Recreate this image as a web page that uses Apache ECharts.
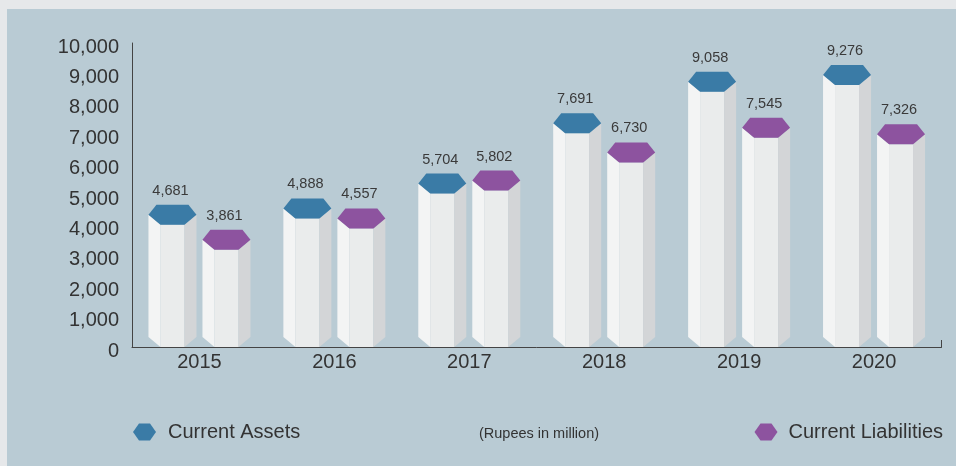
<!DOCTYPE html>
<html>
<head>
<meta charset="utf-8">
<script src="https://cdn.jsdelivr.net/npm/echarts@6/dist/echarts.min.js"></script>
<style>
html,body{margin:0;padding:0;background:#e6e8ea;}
#chart{width:956px;height:466px;}
</style>
</head>
<body>
<div id="chart"></div>
<script>
var years = ['2015', '2016', '2017', '2018', '2019', '2020'];
var currentAssets = [4681, 4888, 5704, 7691, 9058, 9276];
var currentLiabilities = [3861, 4557, 5802, 6730, 7545, 7326];
var yTicks = { min: 0, max: 10000, interval: 1000 };
var unitNote = '(Rupees in million)';

var FONT = '"Liberation Sans", Arial, sans-serif';
var BLUE = '#3a7ba6';
var PURPLE = '#8d539f';

function fmt(v) { return v.toString().replace(/\B(?=(\d{3})+(?!\d))/g, ','); }

function makeRender(offset, topColor) {
  return function (params, api) {
    var idx = api.value(0);
    var p = api.coord([idx, api.value(1)]);
    var base = api.coord([idx, 0]);
    var c = p[0] + offset, y = p[1], y0 = base[1];
    var pw = 24, fw = 12, tw = 16, hh = 20, mh = 10;
    return {
      type: 'group',
      children: [
        { type: 'polygon', shape: { points: [[c - pw, y + mh], [c - fw, y + hh], [c - fw, y0], [c - pw, y0 - mh]] }, style: { fill: '#f3f4f4' } },
        { type: 'polygon', shape: { points: [[c - fw, y + hh], [c + fw, y + hh], [c + fw, y0], [c - fw, y0]] }, style: { fill: '#eaecec' } },
        { type: 'polygon', shape: { points: [[c + fw, y + hh], [c + pw, y + mh], [c + pw, y0 - mh], [c + fw, y0]] }, style: { fill: '#d3d5d7' } },
        { type: 'polygon', shape: { points: [[c - tw, y], [c + tw, y], [c + pw, y + mh], [c + fw, y + hh], [c - fw, y + hh], [c - pw, y + mh]] }, style: { fill: topColor } },
        { type: 'text', x: c - 2, y: y - 14, style: { text: fmt(api.value(1)), fill: '#3a3a3a', font: '14.5px ' + FONT, align: 'center', verticalAlign: 'middle' } }
      ]
    };
  };
}

var HEX_ICON = 'path://M6,0 L17,0 L23,8.5 L17,17 L6,17 L0,8.5 Z';

var chart = echarts.init(document.getElementById('chart'));
chart.setOption({
  backgroundColor: '#e6e8ea',
  animation: false,
  grid: { left: 132, right: 14.5, top: 43, bottom: 119 },
  legend: [
    { data: ['Current Assets'], left: 133, top: 422, padding: 0, itemWidth: 23, itemHeight: 17, icon: HEX_ICON, textStyle: { fontSize: 20, color: '#333', fontFamily: FONT, padding: [0, 0, 0, 7] } },
    { data: ['Current Liabilities'], right: 13, top: 422, padding: 0, itemWidth: 23, itemHeight: 17, icon: HEX_ICON, textStyle: { fontSize: 20, color: '#333', fontFamily: FONT, padding: [0, 0, 0, 6] } }
  ],
  xAxis: {
    type: 'category',
    data: years,
    axisLine: { lineStyle: { color: '#444', width: 1 } },
    axisTick: { show: false },
    axisLabel: { color: '#333', fontSize: 20, fontFamily: FONT, margin: 5 }
  },
  yAxis: {
    type: 'value',
    min: yTicks.min, max: yTicks.max, interval: yTicks.interval,
    axisLine: { show: true, lineStyle: { color: '#444', width: 1 } },
    axisTick: { show: false },
    splitLine: { show: false },
    axisLabel: {
      margin: 13,
      formatter: function (v) { return '{v|' + fmt(v) + '}'; },
      rich: { v: { color: '#333', fontSize: 20, fontFamily: FONT, padding: [8, 0, 0, 0] } }
    }
  },
  series: [
    { name: 'Current Assets', type: 'custom', itemStyle: { color: BLUE }, renderItem: makeRender(-27, BLUE), data: currentAssets.map(function (v, i) { return [i, v]; }) },
    { name: 'Current Liabilities', type: 'custom', itemStyle: { color: PURPLE }, renderItem: makeRender(27, PURPLE), data: currentLiabilities.map(function (v, i) { return [i, v]; }) }
  ]
});

// panel background, unit note and the end tick of the x axis
var gridRight = 956 - 14.5;
var zeroY = chart.convertToPixel({ yAxisIndex: 0 }, 0);
chart.setOption({
  graphic: [
    { type: 'rect', shape: { x: 7, y: 9, width: 949, height: 457 }, style: { fill: '#b9cbd4' }, z: -10, silent: true },
    { type: 'text', x: 539, y: 434, style: { text: unitNote, fill: '#333', font: '14.5px ' + FONT, align: 'center', verticalAlign: 'middle' } },
    { type: 'line', shape: { x1: gridRight, y1: zeroY - 7, x2: gridRight, y2: zeroY }, style: { stroke: '#444', lineWidth: 1 } }
  ]
});
</script>
</body>
</html>
